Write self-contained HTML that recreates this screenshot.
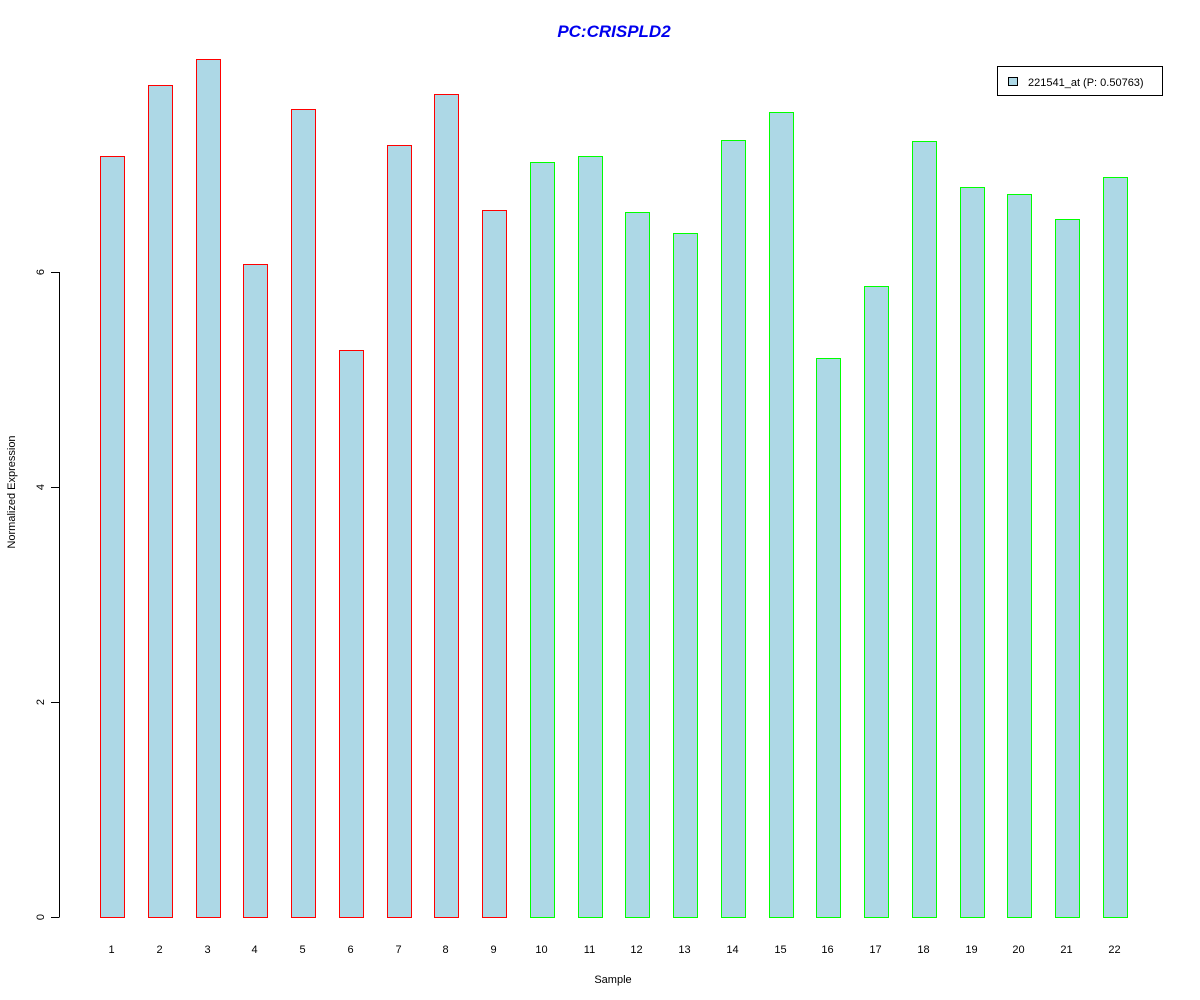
<!DOCTYPE html>
<html><head><style>body{margin:0;background:#fff}svg{display:block}</style></head><body>
<svg width="1200" height="1000" xmlns="http://www.w3.org/2000/svg" font-family="Liberation Sans, Arial, sans-serif">
<rect width="1200" height="1000" fill="#fff"/>
<text x="614" y="37" text-anchor="middle" font-size="17" font-weight="bold" font-style="italic" fill="#0000ee">PC:CRISPLD2</text>
<g stroke="#000" stroke-width="1" shape-rendering="crispEdges">
<line x1="59.5" y1="272" x2="59.5" y2="917"/>
<line x1="51" y1="917.5" x2="59.5" y2="917.5"/>
<line x1="51" y1="702.5" x2="59.5" y2="702.5"/>
<line x1="51" y1="487.5" x2="59.5" y2="487.5"/>
<line x1="51" y1="272.5" x2="59.5" y2="272.5"/>
</g>
<g font-size="11" fill="#000" text-anchor="middle">
<text transform="translate(44,917) rotate(-90)">0</text>
<text transform="translate(44,702) rotate(-90)">2</text>
<text transform="translate(44,487) rotate(-90)">4</text>
<text transform="translate(44,272) rotate(-90)">6</text>
<text transform="translate(15,492) rotate(-90)">Normalized Expression</text>
<text x="613" y="983">Sample</text>
</g>
<g shape-rendering="crispEdges" stroke-width="1">
<rect x="100.5" y="156.5" width="24" height="761" fill="#add8e6" stroke="#ff0000"/>
<rect x="148.5" y="85.5" width="24" height="832" fill="#add8e6" stroke="#ff0000"/>
<rect x="196.5" y="59.5" width="24" height="858" fill="#add8e6" stroke="#ff0000"/>
<rect x="243.5" y="264.5" width="24" height="653" fill="#add8e6" stroke="#ff0000"/>
<rect x="291.5" y="109.5" width="24" height="808" fill="#add8e6" stroke="#ff0000"/>
<rect x="339.5" y="350.5" width="24" height="567" fill="#add8e6" stroke="#ff0000"/>
<rect x="387.5" y="145.5" width="24" height="772" fill="#add8e6" stroke="#ff0000"/>
<rect x="434.5" y="94.5" width="24" height="823" fill="#add8e6" stroke="#ff0000"/>
<rect x="482.5" y="210.5" width="24" height="707" fill="#add8e6" stroke="#ff0000"/>
<rect x="530.5" y="162.5" width="24" height="755" fill="#add8e6" stroke="#00ff00"/>
<rect x="578.5" y="156.5" width="24" height="761" fill="#add8e6" stroke="#00ff00"/>
<rect x="625.5" y="212.5" width="24" height="705" fill="#add8e6" stroke="#00ff00"/>
<rect x="673.5" y="233.5" width="24" height="684" fill="#add8e6" stroke="#00ff00"/>
<rect x="721.5" y="140.5" width="24" height="777" fill="#add8e6" stroke="#00ff00"/>
<rect x="769.5" y="112.5" width="24" height="805" fill="#add8e6" stroke="#00ff00"/>
<rect x="816.5" y="358.5" width="24" height="559" fill="#add8e6" stroke="#00ff00"/>
<rect x="864.5" y="286.5" width="24" height="631" fill="#add8e6" stroke="#00ff00"/>
<rect x="912.5" y="141.5" width="24" height="776" fill="#add8e6" stroke="#00ff00"/>
<rect x="960.5" y="187.5" width="24" height="730" fill="#add8e6" stroke="#00ff00"/>
<rect x="1007.5" y="194.5" width="24" height="723" fill="#add8e6" stroke="#00ff00"/>
<rect x="1055.5" y="219.5" width="24" height="698" fill="#add8e6" stroke="#00ff00"/>
<rect x="1103.5" y="177.5" width="24" height="740" fill="#add8e6" stroke="#00ff00"/>
</g>
<g font-size="11" fill="#000" text-anchor="middle">
<text x="111.5" y="953">1</text>
<text x="159.5" y="953">2</text>
<text x="207.5" y="953">3</text>
<text x="254.5" y="953">4</text>
<text x="302.5" y="953">5</text>
<text x="350.5" y="953">6</text>
<text x="398.5" y="953">7</text>
<text x="445.5" y="953">8</text>
<text x="493.5" y="953">9</text>
<text x="541.5" y="953">10</text>
<text x="589.5" y="953">11</text>
<text x="636.5" y="953">12</text>
<text x="684.5" y="953">13</text>
<text x="732.5" y="953">14</text>
<text x="780.5" y="953">15</text>
<text x="827.5" y="953">16</text>
<text x="875.5" y="953">17</text>
<text x="923.5" y="953">18</text>
<text x="971.5" y="953">19</text>
<text x="1018.5" y="953">20</text>
<text x="1066.5" y="953">21</text>
<text x="1114.5" y="953">22</text>
</g>
<rect x="997.5" y="66.5" width="165" height="29" fill="#fff" stroke="#000" shape-rendering="crispEdges"/>
<rect x="1008.5" y="77.5" width="9" height="8" fill="#add8e6" stroke="#000" shape-rendering="crispEdges"/>
<text x="1028" y="86" font-size="11">221541_at (P: 0.50763)</text>
</svg>
</body></html>
